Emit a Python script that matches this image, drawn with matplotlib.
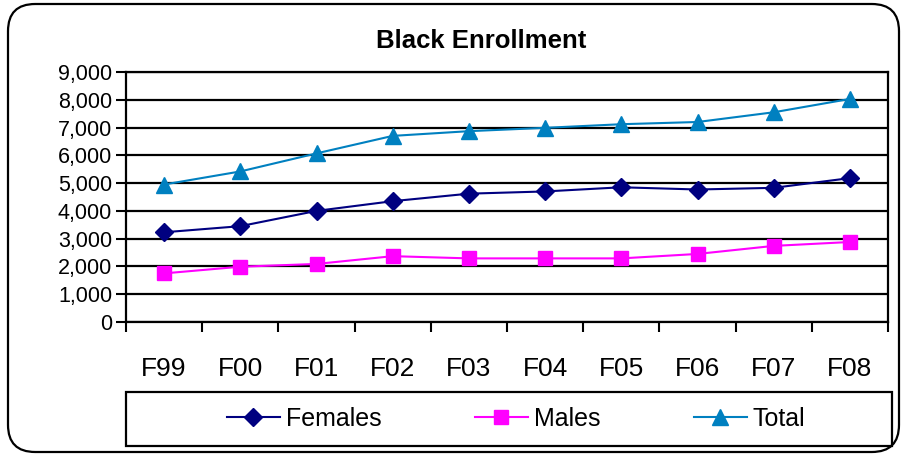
import numpy as np
import matplotlib
matplotlib.use("Agg")
import matplotlib.pyplot as plt
from matplotlib.patches import FancyBboxPatch, Rectangle
from matplotlib.ticker import FuncFormatter

plt.rcParams["font.family"] = ["Liberation Sans", "DejaVu Sans"]

years = ["F99", "F00", "F01", "F02", "F03", "F04", "F05", "F06", "F07", "F08"]
females = [3230, 3450, 4000, 4350, 4620, 4700, 4850, 4770, 4830, 5180]
males = [1750, 1990, 2090, 2370, 2290, 2290, 2290, 2450, 2740, 2880]
total = [4950, 5420, 6070, 6700, 6870, 6990, 7120, 7200, 7550, 8030]

W, H = 907, 457
fig = plt.figure(figsize=(W / 100, H / 100), dpi=100)
def fx(px): return px / W
def fy(py): return 1 - py / H

# rounded outer frame
fig.patches.append(FancyBboxPatch((fx(8), fy(452)), fx(891), 448 / H,
                                  boxstyle="round,pad=0,rounding_size=0.03",
                                  transform=fig.transFigure, fill=False,
                                  ec="black", lw=1.6, mutation_aspect=W / H))

ax = fig.add_axes([fx(126), fy(322), fx(888 - 126), (322 - 72) / H])
x = np.arange(len(years))
ax.plot(x, females, "-D", color="#000080", lw=1.5, ms=9, label="Females")
ax.plot(x, males, "-s", color="#FF00FF", lw=1.5, ms=10.5, label="Males")
ax.plot(x, total, "-^", color="#0080C0", lw=1.5, ms=11, label="Total")

ax.set_xlim(-0.5, len(years) - 0.5)
ax.set_ylim(0, 9000)
ax.set_yticks(np.arange(0, 9001, 1000))
ax.yaxis.set_major_formatter(FuncFormatter(lambda v, p: f"{int(v):,}"))
ax.grid(axis="y", color="black", lw=1.6)
ax.set_axisbelow(True)
ax.tick_params(axis="y", length=7, width=1.5, pad=3, labelsize=15.5)

ax.set_xticks(np.arange(-0.5, len(years)), labels=[])
ax.set_xticks(x, labels=years, minor=True)
ax.tick_params(axis="x", which="major", length=7, width=1.5)
ax.tick_params(axis="x", which="minor", length=0, pad=25, labelsize=19)
for s in ax.spines.values():
    s.set_linewidth(1.6)

fig.text(fx(481), fy(41), "Black Enrollment", ha="center", va="center",
         fontsize=18.5, fontweight="bold")

# legend box
fig.patches.append(Rectangle((fx(126), fy(446)), fx(892 - 126), 54 / H,
                             transform=fig.transFigure, fill=False,
                             ec="black", lw=1.6))
fig.legend(loc="center left", bbox_to_anchor=(fx(227), fy(419)), ncol=3,
           frameon=False, fontsize=18, handlelength=2.1, handletextpad=0.25,
           columnspacing=3.75, borderaxespad=0, borderpad=0)

fig.savefig("out.png", dpi=100)
